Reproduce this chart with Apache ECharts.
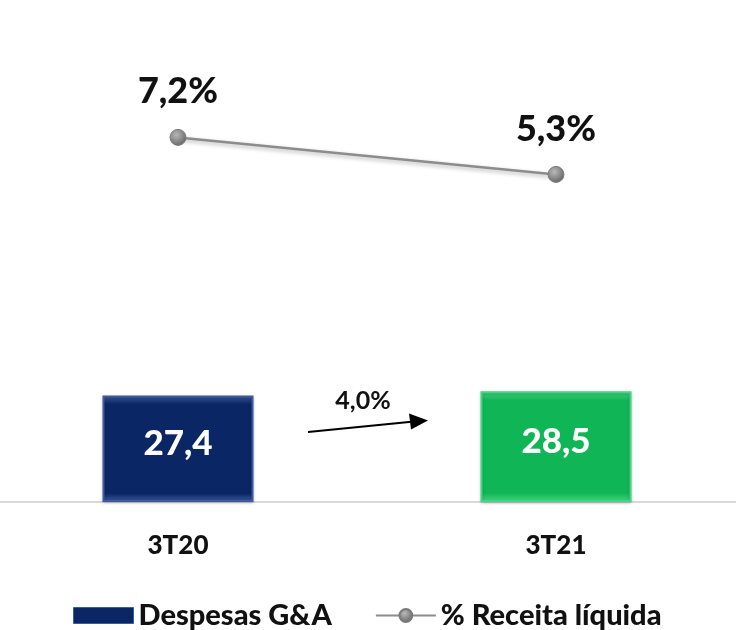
<!DOCTYPE html>
<html>
<head>
<meta charset="utf-8">
<script src="https://cdn.jsdelivr.net/npm/echarts@6/dist/echarts.min.js"></script>
<style>
  html, body { margin: 0; padding: 0; background: #fff; overflow: hidden; }
  /* a bit wider than the window so the two bands sit where the original has them */
  #chart { width: 756px; height: 630px; margin-left: -11px; }
</style>
</head>
<body>
<div id="chart"></div>
<script>
const categories = ['3T20', '3T21']
const despesas = [27.4, 28.5]
const receitaPct = [7.2, 5.3]
const barColors = ['#0a2665', '#10b656']
const barEdges = ['#3d5b9e', '#45d684']
const growthLabel = '4,0%'

const fontFamily = 'Lato, "Open Sans", sans-serif'
const chart = echarts.init(document.getElementById('chart'))

function fmt(v) {
  return v.toFixed(1).replace('.', ',')
}

chart.setOption({
  animation: false,
  textStyle: { fontFamily: fontFamily },
  grid: { left: 0, right: 0, top: 36, bottom: 128 },
  legend: {
    top: 596,
    left: 79,
    itemWidth: 60,
    itemHeight: 16,
    itemGap: 43,
    textStyle: { fontSize: 29, fontWeight: 900, color: '#111' },
    data: [
      { name: 'Despesas G&A', icon: 'rect', itemStyle: { color: barColors[0], borderColor: barEdges[0], borderWidth: 1 } },
      { name: '% Receita líquida' }
    ]
  },
  xAxis: {
    type: 'category',
    data: categories,
    axisLine: { lineStyle: { color: '#d9d9d9', width: 2 } },
    axisTick: { show: false },
    axisLabel: { margin: 31, fontSize: 26, fontWeight: 900, color: '#111' }
  },
  yAxis: [
    { type: 'value', min: 0, max: 120, show: false },
    { type: 'value', min: -11.5, max: 12.4, show: false }
  ],
  series: [
    {
      name: 'Despesas G&A',
      type: 'bar',
      barWidth: 151,
      data: despesas.map((v, i) => ({
        value: v,
        itemStyle: {
          color: new echarts.graphic.LinearGradient(0, 0, 0, 1, [
            { offset: 0, color: barEdges[i] },
            { offset: 0.08, color: barColors[i] },
            { offset: 0.92, color: barColors[i] },
            { offset: 1, color: barEdges[i] }
          ]),
          borderColor: barEdges[i],
          borderWidth: 2,
          shadowColor: 'rgba(0,0,0,0.25)',
          shadowBlur: 3,
          shadowOffsetY: 1
        }
      })),
      label: {
        show: true,
        position: 'inside',
        offset: [0, -5],
        formatter: p => fmt(p.value),
        fontSize: 35,
        fontWeight: 900,
        color: '#fff'
      }
    },
    {
      name: '% Receita líquida',
      type: 'line',
      yAxisIndex: 1,
      data: receitaPct,
      symbol: 'circle',
      symbolSize: 16,
      lineStyle: {
        color: '#8c8c8c',
        width: 2.5,
        shadowColor: 'rgba(0,0,0,0.3)',
        shadowBlur: 4,
        shadowOffsetY: 2
      },
      itemStyle: {
        color: new echarts.graphic.RadialGradient(0.4, 0.35, 0.6, [
          { offset: 0, color: '#b8b8b8' },
          { offset: 1, color: '#6e6e6e' }
        ]),
        borderColor: '#7a7a7a',
        borderWidth: 1
      },
      label: {
        show: true,
        position: 'top',
        distance: 19,
        formatter: p => fmt(p.value) + '%',
        fontSize: 36,
        fontWeight: 900,
        color: '#111'
      }
    }
  ]
})

// growth arrow between the two bars
const p0 = chart.convertToPixel({ xAxisIndex: 0, yAxisIndex: 0 }, [0, 0])
const p1 = chart.convertToPixel({ xAxisIndex: 0, yAxisIndex: 0 }, [1, 0])
const mid = (p0[0] + p1[0]) / 2
const yA = chart.convertToPixel({ yAxisIndex: 0 }, 18)
const yB = chart.convertToPixel({ yAxisIndex: 0 }, 21)
const x1 = mid - 59, x2 = mid + 61
chart.setOption({
  graphic: [
    {
      type: 'line',
      shape: { x1: x1, y1: yA, x2: x2 - 14, y2: yB + 1 },
      style: { stroke: '#000', lineWidth: 2 }
    },
    {
      type: 'polygon',
      shape: { points: [[x2 - 19, yB - 7], [x2, yB], [x2 - 17, yB + 9]] },
      style: { fill: '#000' }
    },
    {
      type: 'text',
      x: mid - 4,
      y: yB - 32,
      style: {
        text: growthLabel,
        fontSize: 25,
        fontWeight: 'bold',
        fontFamily: fontFamily,
        fill: '#111',
        align: 'center'
      }
    }
  ]
})
</script>
</body>
</html>
